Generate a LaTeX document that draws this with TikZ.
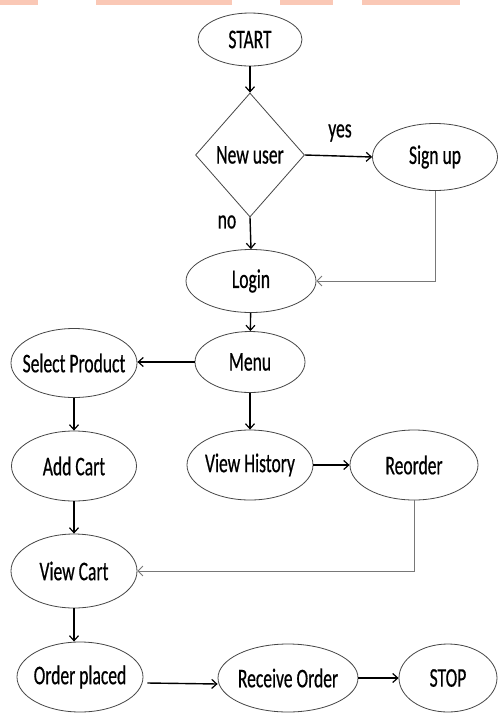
\documentclass[tikz,border=0pt]{standalone}
\usepackage{fontspec}
\setmainfont{Carlito}[FakeStretch=0.65,FakeBold=0.5]
\usetikzlibrary{shapes.geometric,arrows.meta}
\definecolor{wmark}{RGB}{250,200,182}
\definecolor{edgegrey}{RGB}{70,70,70}
\definecolor{thingrey}{RGB}{120,120,120}
\tikzset{
  oval/.style={ellipse, draw=edgegrey, line width=0.8pt, inner sep=0pt, font=\fontsize{27}{30}\selectfont},
  decision/.style={diamond, draw=edgegrey, line width=0.8pt, inner sep=0pt, font=\fontsize{27}{30}\selectfont},
  flow/.style={draw=black, line width=1.4pt, -{Straight Barb[length=5pt,width=9pt,line width=1.2pt]}},
  back/.style={draw=thingrey, line width=0.8pt, -{Straight Barb[length=5pt,width=10pt,line width=0.8pt]}},
  lbl/.style={font=\fontsize{27}{30}\selectfont, inner sep=0pt}
}
\newcommand{\zw}[1]{\makebox[0pt]{#1}}
\begin{document}
\begin{tikzpicture}[x=1pt,y=-1pt]
\useasboundingbox (0,0) rectangle (498,713);
\fill[white] (0,0) rectangle (498,713);
% cut-off watermark
\fill[wmark] (0,0) rectangle (38,4.5);
\fill[wmark] (96,0) rectangle (232,4.5);
\fill[wmark] (280,0) rectangle (333,4.5);
\fill[wmark] (362,0) rectangle (460,4.5);

\node[oval, minimum width=104, minimum height=53] (start) at (250,39.5) {\zw{START}};
\node[decision, minimum width=109, minimum height=124] (new) at (250,155) {\zw{New user}};
\node[oval, minimum width=125, minimum height=67] (sign) at (435,157) {\zw{Sign up}};
\node[oval, minimum width=130, minimum height=63] (login) at (251,281) {\zw{Login}};
\node[oval, minimum width=110, minimum height=61] (menu) at (250,362) {\zw{Menu}};
\node[oval, minimum width=126, minimum height=69] (sel) at (74,363) {\zw{Select Product}};
\node[oval, minimum width=125, minimum height=70] (add) at (74,466) {\zw{Add Cart}};
\node[oval, minimum width=126, minimum height=70] (hist) at (250,465) {\zw{View History}};
\node[oval, minimum width=128, minimum height=70] (reo) at (414,465) {\zw{Reorder}};
\node[oval, minimum width=126, minimum height=74] (vcart) at (74,571) {\zw{View Cart}};
\node[oval, minimum width=126, minimum height=70] (order) at (80,677) {\zw{Order placed}};
\node[oval, minimum width=140, minimum height=68] (recv) at (288,678) {\zw{Receive Order}};
\node[oval, minimum width=98, minimum height=68] (stop) at (448,678) {\zw{STOP}};

\node[lbl] (yes) at (340,133) {yes};
\node[lbl] (no) at (227,222) {no};

\draw[flow] (start) -- (new);
\draw[flow] (new.east) -- (sign.west);
\draw[flow] (new.south) -- (login.north);
\draw[back] (sign.south) |- (login.east);
\draw[flow] (login) -- (menu);
\draw[flow] (menu.west) -- (menu.west -| sel.east);
\draw[flow] (sel) -- (add);
\draw[flow] (menu) -- (hist);
\draw[flow] (hist.east) -- (reo.west);
\draw[back] (reo.south) |- (vcart.east);
\draw[flow] (add) -- (vcart);
\draw[flow] (vcart.south) -- (order.north -| vcart.south);
\draw[flow] ([xshift=4pt,yshift=-6pt]order.east) -- ([yshift=-6pt]recv.west);
\draw[flow] (recv.east) -- (stop.west);
\end{tikzpicture}
\end{document}
